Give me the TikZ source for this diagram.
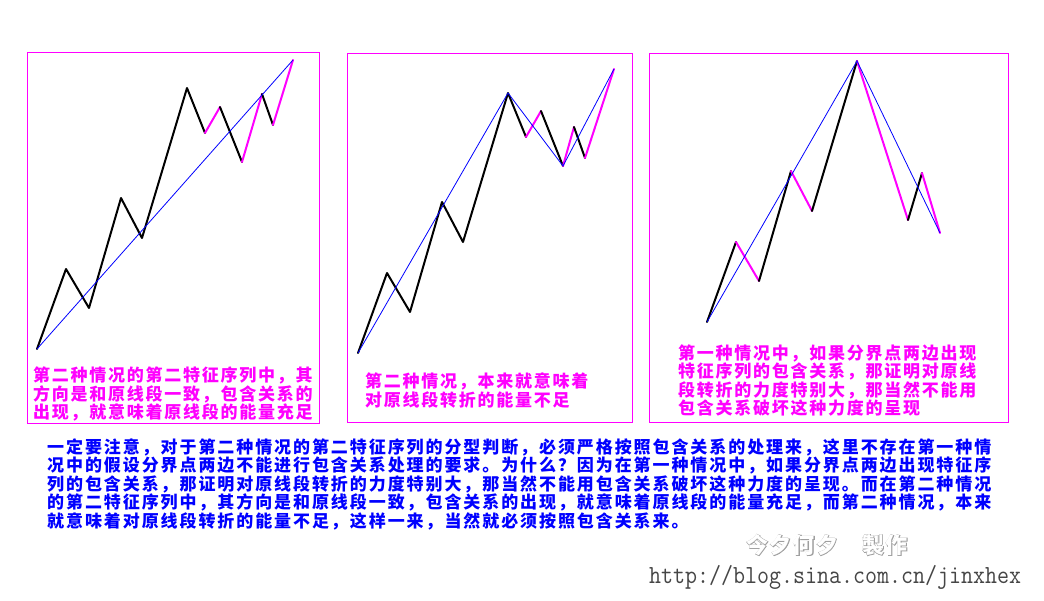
\documentclass[tikz,border=0pt]{standalone}
\usepackage{fontspec}
\newfontfamily\cjk[LetterSpace=10.3]{Noto Sans CJK SC}
\newfontfamily\cjkwide[LetterSpace=11.3]{Noto Sans CJK SC}
\newfontfamily\wmfont[LetterSpace=6]{Noto Sans CJK SC}
\newfontfamily\wmthick[LetterSpace=6,FakeBold=4]{Noto Sans CJK SC}
\definecolor{penmag}{RGB}{255,0,255}
\definecolor{penblue}{RGB}{0,0,255}
\definecolor{urlgray}{RGB}{70,70,70}
\tikzset{
  panelbox/.style={draw=penmag, line width=1pt},
  blkleg/.style={draw=black, line width=2pt, line join=round, line cap=round},
  magleg/.style={draw=penmag, line width=2pt, line join=round, line cap=round},
  segline/.style={draw=penblue, line width=0.8pt},
  note/.style={inner sep=0pt, align=left, anchor=base west,
    font=\cjk\bfseries\fontsize{17}{16.7}\selectfont}
}
\newcommand{\wmtext}{今夕何夕\hspace{24pt}製作}

\begin{document}
\begin{tikzpicture}[x=1pt, y=-1pt]
    \useasboundingbox[fill=white] (0,0) rectangle (1044,600);

    % 枠
    \draw[panelbox] (27,52) rectangle (319,423);
    \draw[panelbox] (347,53) rectangle (632,422);
    \draw[panelbox] (649,53) rectangle (1008,422);

    % 左の図の点
    \coordinate (a0) at (37,349);
    \coordinate (a1) at (66,269);
    \coordinate (a2) at (89,308);
    \coordinate (a3) at (121,198);
    \coordinate (a4) at (142,238);
    \coordinate (a5) at (187,88);
    \coordinate (a6) at (205,133);
    \coordinate (a7) at (220,107);
    \coordinate (a8) at (242,162);
    \coordinate (a9) at (262,94);
    \coordinate (a10) at (273,125);
    \coordinate (a11) at (293,60);

    \draw[blkleg] (a0) -- (a1) -- (a2) -- (a3) -- (a4) -- (a5) -- (a6);
    \draw[magleg] (a6) -- (a7);
    \draw[blkleg] (a7) -- (a8);
    \draw[magleg] (a8) -- (a9);
    \draw[blkleg] (a9) -- (a10);
    \draw[magleg] (a10) -- (a11);
    \draw[segline] (a0) -- (a11);

    % 中央の図の点
    \coordinate (b0) at (358,353);
    \coordinate (b1) at (387,273);
    \coordinate (b2) at (410,312);
    \coordinate (b3) at (442,202);
    \coordinate (b4) at (463,242);
    \coordinate (b5) at (508,93);
    \coordinate (b6) at (526,137);
    \coordinate (b7) at (541,111);
    \coordinate (b8) at (563,166);
    \coordinate (b9) at (574,127);
    \coordinate (b10) at (585,158);
    \coordinate (b11) at (614,69);

    \draw[blkleg] (b0) -- (b1) -- (b2) -- (b3) -- (b4) -- (b5) -- (b6);
    \draw[magleg] (b6) -- (b7);
    \draw[blkleg] (b7) -- (b8);
    \draw[magleg] (b8) -- (b9);
    \draw[blkleg] (b9) -- (b10);
    \draw[magleg] (b10) -- (b11);
    \draw[segline] (b0) -- (b5) -- (b8) -- (b11);

    % 右の図の点
    \coordinate (c0) at (707,322);
    \coordinate (c1) at (736,242);
    \coordinate (c2) at (759,281);
    \coordinate (c3) at (791,171);
    \coordinate (c4) at (812,211);
    \coordinate (c5) at (857,61);
    \coordinate (c6) at (908,220);
    \coordinate (c7) at (922,173);
    \coordinate (c8) at (940,233);

    \draw[blkleg] (c0) -- (c1);
    \draw[magleg] (c1) -- (c2);
    \draw[blkleg] (c2) -- (c3);
    \draw[magleg] (c3) -- (c4);
    \draw[blkleg] (c4) -- (c5);
    \draw[magleg] (c5) -- (c6);
    \draw[blkleg] (c6) -- (c7);
    \draw[magleg] (c7) -- (c8);
    \draw[segline] (c0) -- (c5) -- (c8);

    % 説明文 (base は最後の行)
    \node[note, text=penmag] (t1) at (33,418.5)
      {第二种情况的第二特征序列中，其\\方向是和原线段一致，包含关系的\\出现，就意味着原线段的能量充足};
    \node[note, text=penmag] (t2) at (365,406)
      {第二种情况，本来就意味着\\对原线段转折的能量不足};
    \node[note, text=penmag] (t3) at (678,414.5)
      {第一种情况中，如果分界点两边出现\\特征序列的包含关系，那证明对原线\\段转折的力度特别大，那当然不能用\\包含关系破坏这种力度的呈现};
    \node[note, text=penblue, font=\cjkwide\bfseries\fontsize{17}{17.1}\selectfont] (t4) at (47,527)
      {一定要注意，对于第二种情况的第二特征序列的分型判断，必须严格按照包含关系的处理来，这里不存在第一种情\\%
       况中的假设分界点两边不能进行包含关系处理的要求。为什么？因为在第一种情况中，如果分界点两边出现特征序\\%
       列的包含关系，那证明对原线段转折的力度特别大，那当然不能用包含关系破坏这种力度的呈现。而在第二种情况\\%
       的第二特征序列中，其方向是和原线段一致，包含关系的出现，就意味着原线段的能量充足，而第二种情况，本来\\%
       就意味着对原线段转折的能量不足，这样一来，当然就必须按照包含关系来。};

    % 署名
    \node[inner sep=0pt, font=\bfseries\fontsize{22}{22}\selectfont] (sig) at (827,545)
      {\makebox[0pt][l]{\color{gray!75}\wmthick\wmtext}{\color{white}\wmfont\wmtext}};
    \node[inner sep=0pt, anchor=base west, text=urlgray] (url) at (649,583)
      {\scalebox{1}[1.12]{\ttfamily\fontsize{23.3}{24}\selectfont http://blog.sina.com.cn/jinxhex}};
\end{tikzpicture}
\end{document}
